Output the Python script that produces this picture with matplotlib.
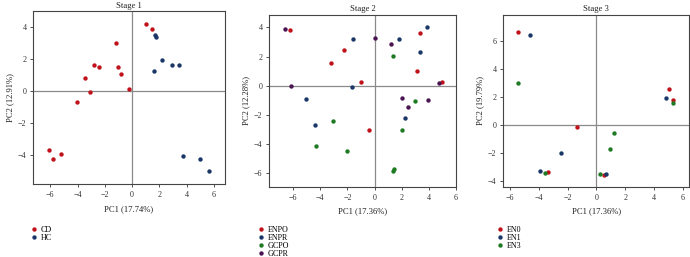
import matplotlib
matplotlib.use("Agg")
import matplotlib.pyplot as plt

plt.rcParams['font.family'] = ['Liberation Serif', 'DejaVu Serif']

# Stage 1
s1_cd_x = [1.02, 1.46, -1.21, -2.82, -2.41, -1.07, -0.85, -3.43, -0.24, -3.07, -4.04, -6.06, -5.20, -5.79]
s1_cd_y = [4.19, 3.84, 2.96, 1.61, 1.48, 1.48, 1.06, 0.81, 0.09, -0.10, -0.73, -3.73, -3.94, -4.27]
s1_hc_x = [1.68, 1.75, 2.15, 2.90, 3.46, 1.61, 3.72, 4.94, 5.60]
s1_hc_y = [3.50, 3.38, 1.94, 1.59, 1.59, 1.21, -4.10, -4.27, -5.00]

# Stage 2
s2_enpo_x = [-6.23, -2.25, -3.24, -1.03, 3.36, 3.09, 4.98, -0.44]
s2_enpo_y = [3.81, 2.47, 1.55, 0.27, 3.60, 1.05, 0.25, -3.01]
s2_enpr_x = [-1.62, 1.81, 3.85, 3.31, -1.69, -5.02, -4.41, 2.25]
s2_enpr_y = [3.20, 3.20, 4.02, 2.30, -0.09, -0.87, -2.65, -2.21]
s2_gcpo_x = [1.32, 2.99, -3.04, 2.01, -4.34, -2.01, 1.32, 1.40]
s2_gcpo_y = [2.05, -1.03, -2.42, -3.04, -4.11, -4.45, -5.80, -5.68]
s2_gcpr_x = [-6.59, -6.18, 0.05, 1.20, 1.99, 2.48, 3.97, 4.73]
s2_gcpr_y = [3.88, 0.00, 3.26, 2.88, -0.80, -1.44, -1.00, 0.20]

# Stage 3
s3_en0_x = [-5.47, 5.05, 5.33, -1.35, -3.39, 0.54]
s3_en0_y = [6.64, 2.57, 1.79, -0.17, -3.38, -3.62]
s3_en1_x = [-4.61, 4.87, -2.44, -3.90, 0.70]
s3_en1_y = [6.43, 1.93, -2.00, -3.33, -3.52]
s3_en3_x = [-5.42, 5.35, 1.24, 0.98, 0.27, -3.55]
s3_en3_y = [2.98, 1.52, -0.60, -1.76, -3.52, -3.48]

titles = ["Stage 1", "Stage 2", "Stage 3"]
xlabels = ["PC1 (17.74%)", "PC1 (17.36%)", "PC1 (17.36%)"]
ylabels = ["PC2 (12.91%)", "PC2 (12.28%)", "PC2 (19.79%)"]

RED = "#c0121b"
BLUE = "#1b3768"
GREEN = "#1f7a24"
PURPLE = "#4a1450"

panels = [
    ([(s1_cd_x, s1_cd_y, RED, "CD"), (s1_hc_x, s1_hc_y, BLUE, "HC")],
     [0.0483, 0.283, 0.2774, 0.674], (-7.24, 6.78), (-5.84, 4.98),
     [-6, -4, -2, 0, 2, 4, 6], [-4, -2, 0, 2, 4], 38),
    ([(s2_enpo_x, s2_enpo_y, RED, "ENPO"), (s2_enpr_x, s2_enpr_y, BLUE, "ENPR"),
      (s2_gcpo_x, s2_gcpo_y, GREEN, "GCPO"), (s2_gcpr_x, s2_gcpr_y, PURPLE, "GCPR")],
     [0.3903, 0.274, 0.2706, 0.669], (-7.76, 6.0), (-6.9, 4.88),
     [-6, -4, -2, 0, 2, 4, 6], [-6, -4, -2, 0, 2, 4], 265),
    ([(s3_en0_x, s3_en0_y, RED, "EN0"), (s3_en1_x, s3_en1_y, BLUE, "EN1"),
      (s3_en3_x, s3_en3_y, GREEN, "EN3")],
     [0.7295, 0.274, 0.2695, 0.669], (-6.47, 6.46), (-4.43, 7.86),
     [-6, -4, -2, 0, 2, 4, 6], [-4, -2, 0, 2, 4, 6], 504),
]

fig = plt.figure(figsize=(6.9, 2.57), dpi=100)
for i, (series, rect, xl, yl, xt, yt, legx) in enumerate(panels):
    ax = fig.add_axes(rect)
    ax.axhline(0, color="#8a8a8a", lw=0.9, zorder=1)
    ax.axvline(0, color="#8a8a8a", lw=0.9, zorder=1)
    handles = []
    for xs, ys, c, lab in series:
        h = ax.scatter(xs, ys, s=10, color=c, label=lab, zorder=3, linewidths=0)
        handles.append(h)
    ax.set_xlim(*xl)
    ax.set_ylim(*yl)
    ax.set_xticks(xt)
    ax.set_yticks(yt)
    ax.set_xticklabels([str(v).replace("-", "\u2212") for v in xt])
    ax.set_yticklabels([str(v).replace("-", "\u2212") for v in yt])
    ax.tick_params(labelsize=5.8, length=2.5, width=0.6, colors="#333333", pad=2.5)
    for sp in ax.spines.values():
        sp.set_color("#444444")
        sp.set_linewidth(0.8)
    ax.set_title(titles[i], fontsize=6.2, pad=2.5, color="#222222")
    ax.set_xlabel(xlabels[i], fontsize=6.2, labelpad=4, color="#222222")
    ax.set_ylabel(ylabels[i], fontsize=6.2, labelpad=3, color="#222222")
    fig.legend(handles=handles, loc="upper left",
               bbox_to_anchor=((legx - 6) / 690, 1 - 225.5 / 257),
               frameon=False, fontsize=5.8, handlelength=0.6,
               handletextpad=0.5, labelspacing=0.0, borderpad=0,
               borderaxespad=0, markerscale=1.0)

fig.savefig("out.png", dpi=100)
